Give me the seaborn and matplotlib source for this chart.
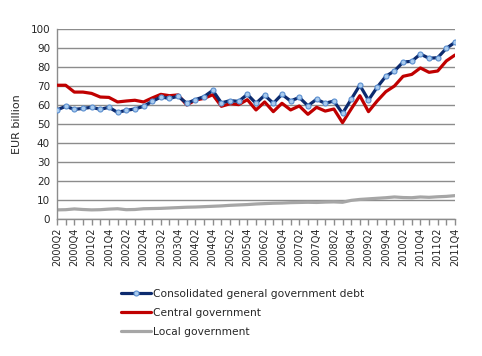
import matplotlib
matplotlib.use("Agg")
import matplotlib.pyplot as plt
import seaborn as sns
import pandas as pd
import numpy as np

quarters = [f"{y}Q{q}" for y in range(2000, 2012) for q in range(1, 5)][1:]

debt = [57.4, 59.3, 57.7, 58.2, 58.8, 57.7, 58.8, 56.1, 57.2, 57.9, 59.3, 61.9,
        64.2, 63.5, 64.6, 60.9, 62.8, 64.4, 67.7, 61.1, 62.3, 61.9, 65.6, 60.9,
        65.1, 60.9, 65.6, 62.1, 64.0, 59.6, 63.0, 60.9, 62.1, 55.6, 63.0, 70.4,
        62.6, 69.3, 75.1, 77.9, 82.6, 83.0, 86.8, 84.6, 84.9, 89.8, 93.0]
central = [70.4, 70.4, 66.8, 66.8, 66.1, 64.2, 64.0, 61.6, 62.1, 62.5, 61.6, 63.7,
           65.6, 64.9, 65.3, 60.0, 62.6, 63.5, 65.4, 59.3, 60.7, 60.2, 62.8, 57.4,
           61.6, 56.5, 60.9, 57.4, 59.5, 55.1, 58.8, 56.8, 57.9, 50.7, 57.9, 64.9,
           56.5, 62.1, 67.0, 70.0, 75.1, 76.1, 79.5, 77.2, 77.9, 83.2, 86.3]
local = [4.8, 4.9, 5.3, 5.0, 4.8, 4.9, 5.2, 5.4, 4.9, 5.0, 5.4, 5.5, 5.6, 5.8, 6.0,
         6.2, 6.3, 6.5, 6.7, 6.9, 7.2, 7.4, 7.6, 7.9, 8.1, 8.3, 8.4, 8.6, 8.7, 8.8,
         8.7, 8.9, 9.0, 8.8, 9.8, 10.3, 10.6, 10.9, 11.2, 11.6, 11.3, 11.2, 11.6,
         11.4, 11.7, 11.9, 12.3]

labels = ["Consolidated general government debt", "Central government", "Local government"]

sns.set_theme(style="white")
plt.rcParams['font.family'] = ['DejaVu Sans']

fig = plt.figure(figsize=(4.82, 3.56), dpi=100)
ax = fig.add_axes([57/482, 1 - 219/356, (455 - 57)/482, (219 - 29)/356])

idx = np.arange(len(quarters))
df = pd.DataFrame({"i": idx, "debt": debt, "central": central, "local": local})

sns.lineplot(data=df, x="i", y="local", ax=ax, color="#a6a6a6", lw=2.3, label=labels[2], zorder=2)
sns.lineplot(data=df, x="i", y="central", ax=ax, color="#c00000", lw=2.3, label=labels[1], zorder=3)
sns.lineplot(data=df, x="i", y="debt", ax=ax, color="#0d2b6e", lw=2.3, label=labels[0], zorder=4,
             marker="o", markersize=3.6, markerfacecolor="#a9cbee", markeredgecolor="#5b8fd0",
             markeredgewidth=0.8)

ax.set_xlim(0, len(quarters) - 1)
ax.set_ylim(0, 100)
ax.set_yticks(range(0, 101, 10))
ax.yaxis.grid(True, color="#8c8c8c", lw=1)
ax.set_axisbelow(True)
for s in ["top", "right"]:
    ax.spines[s].set_visible(False)
for s in ["left", "bottom"]:
    ax.spines[s].set_color("#8c8c8c")
    ax.spines[s].set_linewidth(1)

ax.set_xticks(idx)
ax.set_xticklabels([q if i % 2 == 0 else "" for i, q in enumerate(quarters)],
                   rotation=90, fontsize=7)
ax.tick_params(axis="x", which="major", length=4, color="#8c8c8c", width=1, pad=2, bottom=True)
ax.tick_params(axis="y", length=0, labelsize=7.5, pad=5)
ax.set_xlabel("")
ax.set_ylabel("EUR billion", fontsize=8, labelpad=6)

h, l = ax.get_legend_handles_labels()
ax.get_legend().remove()
order = [l.index(x) for x in labels]
fig.legend([h[o] for o in order], [l[o] for o in order], loc="upper left",
           bbox_to_anchor=(121/482, 1 - 289/356), frameon=False, fontsize=7.7,
           handlelength=2.8, handletextpad=0.15, labelspacing=0.85, borderpad=0,
           borderaxespad=0)

fig.savefig("out.png", dpi=100)
